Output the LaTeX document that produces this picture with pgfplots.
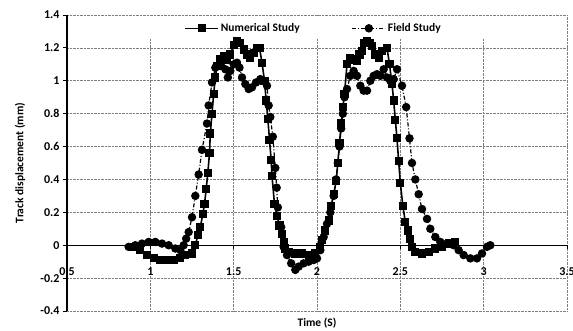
\documentclass[border=0pt]{standalone}
\usepackage{fontspec}
\setmainfont{Carlito}
\usepackage{pgfplots}
\pgfplotsset{compat=1.18}
\usetikzlibrary{calc}
\begin{document}
\begin{tikzpicture}
\begin{axis}[
  scale only axis, width=500pt, height=296pt,
  xmin=0.5, xmax=3.5, ymin=-0.4, ymax=1.4,
  xtick={0.5,1,1.5,2,2.5,3,3.5},
  xticklabels={0.5,1,1.5,2,2.5,3,3.5},
  ytick={-0.4,-0.2,0,0.2,0.4,0.6,0.8,1,1.2,1.4},
  yticklabels={-0.4,-0.2,0,0.2,0.4,0.6,0.8,1,1.2,1.4},
  axis y line=left, axis x line=middle,
  hide obscured x ticks=false, hide obscured y ticks=false,
  axis line style={-, line width=1.4pt, black},
  tick align=outside, major tick length=4pt,
  tick style={black, line width=0.8pt},
  grid=major, grid style={densely dotted, black!50, line width=0.6pt},
  ticklabel style={font=\fontsize{12}{14}\selectfont\bfseries},
  xticklabel style={yshift=-15pt},
  xlabel={Time (S)}, ylabel={Track displacement (mm)},
  label style={font=\fontsize{11.5}{13}\selectfont\bfseries},
  xlabel style={at={(axis description cs:0.5,0)}, anchor=center, yshift=-12pt},
  ylabel style={at={(axis description cs:-0.094,0.5)}, anchor=center},
  legend columns=2,
  legend style={draw=none, fill=none, at={(rel axis cs:0.493,0.955)}, anchor=center,
    font=\fontsize{11.5}{13}\selectfont\bfseries,
    /tikz/every even column/.append style={column sep=50pt}},
  legend image code/.code={\draw[mark repeat=2,mark phase=2,#1] plot coordinates {(0pt,0pt) (16.5pt,0pt) (33pt,0pt)};},
  clip=false,
]
\coordinate (sw) at (rel axis cs:0,0);
\coordinate (ne) at (rel axis cs:1,1);
\fill[white] (axis cs:0.6,1.39) rectangle (axis cs:3.3,1.253);

\addplot[black, line width=1.6pt, mark=square*, mark size=3.3pt, mark options={solid}] coordinates {
(0.90,-0.01) (0.94,-0.03) (0.98,-0.06) (1.02,-0.08) (1.06,-0.09) (1.10,-0.09) (1.14,-0.09)
(1.18,-0.08) (1.21,-0.06) (1.25,-0.05) (1.27,0.00) (1.285,0.06) (1.30,0.11) (1.315,0.19)
(1.325,0.25) (1.335,0.34) (1.345,0.44) (1.355,0.56) (1.36,0.68) (1.37,0.80) (1.38,0.92)
(1.39,1.02) (1.40,1.09) (1.42,1.13) (1.44,1.15) (1.46,1.13) (1.48,1.16) (1.50,1.22)
(1.52,1.24) (1.54,1.23) (1.56,1.19) (1.58,1.16) (1.60,1.14) (1.62,1.17) (1.64,1.20)
(1.655,1.20) (1.67,1.11) (1.685,1.00) (1.695,0.88) (1.705,0.77) (1.715,0.64) (1.725,0.52)
(1.73,0.42) (1.745,0.25) (1.76,0.18) (1.775,0.12) (1.79,0.07) (1.80,0.02) (1.81,-0.02)
(1.83,-0.04) (1.87,-0.05) (1.91,-0.05) (1.95,-0.06) (1.99,-0.05) (2.02,-0.01) (2.03,0.03)
(2.05,0.09) (2.07,0.15) (2.085,0.24) (2.10,0.31) (2.115,0.39) (2.125,0.50) (2.135,0.62)
(2.145,0.74) (2.155,0.84) (2.165,0.92) (2.18,1.10) (2.20,1.14) (2.22,1.13) (2.24,1.12)
(2.255,1.16) (2.27,1.18) (2.285,1.23) (2.30,1.24) (2.315,1.23) (2.33,1.21) (2.35,1.16)
(2.37,1.14) (2.39,1.18) (2.42,1.20) (2.435,1.10) (2.45,0.98) (2.46,0.88) (2.47,0.76)
(2.48,0.65) (2.49,0.51) (2.50,0.38) (2.515,0.24) (2.53,0.14) (2.545,0.09) (2.56,0.04)
(2.57,-0.01) (2.59,-0.04) (2.63,-0.05) (2.67,-0.04) (2.71,-0.02) (2.75,-0.01) (2.79,0.01)
(2.83,0.02)
};
\addlegendentry{Numerical Study}

\addplot[black, line width=1.2pt, dash pattern=on 4pt off 2pt on 1pt off 2pt, mark=*, mark size=3.6pt, mark options={solid}] coordinates {
(0.87,-0.01) (0.91,0.00) (0.95,0.01) (0.99,0.02) (1.03,0.02) (1.07,0.01) (1.11,0.00)
(1.15,-0.02) (1.18,-0.03) (1.20,0.00) (1.215,0.04) (1.23,0.08) (1.25,0.17) (1.27,0.30)
(1.29,0.43) (1.31,0.58) (1.34,0.74) (1.35,0.85) (1.37,0.99) (1.39,1.08) (1.42,1.09)
(1.435,1.14) (1.45,1.07) (1.465,1.02) (1.48,1.06) (1.50,1.10) (1.52,1.11) (1.535,1.08)
(1.55,1.02) (1.57,0.98) (1.59,0.95) (1.61,0.96) (1.635,0.99) (1.66,1.01) (1.68,1.00)
(1.70,0.97) (1.71,0.85) (1.72,0.78) (1.735,0.66) (1.75,0.47) (1.758,0.35) (1.765,0.23)
(1.785,0.11) (1.80,-0.01) (1.82,-0.06) (1.845,-0.11) (1.87,-0.15) (1.89,-0.13) (1.92,-0.11)
(1.95,-0.10) (1.98,-0.09) (2.00,-0.08) (2.02,-0.03) (2.04,0.05) (2.06,0.13) (2.08,0.20)
(2.10,0.30) (2.115,0.40) (2.125,0.50) (2.135,0.60) (2.145,0.71) (2.155,0.80) (2.165,0.90)
(2.18,0.95) (2.20,1.03) (2.22,1.06) (2.24,1.03) (2.26,0.97) (2.28,0.94) (2.30,0.94)
(2.32,1.00) (2.34,1.03) (2.36,1.04) (2.38,1.03) (2.40,1.07) (2.42,1.02) (2.44,1.00)
(2.46,1.01) (2.48,1.07) (2.51,0.97) (2.535,0.84) (2.555,0.65) (2.57,0.50) (2.59,0.40)
(2.61,0.31) (2.63,0.22) (2.66,0.16) (2.68,0.10) (2.71,0.05) (2.74,0.02) (2.78,0.01)
(2.82,0.00) (2.85,-0.03) (2.88,-0.06) (2.92,-0.08) (2.96,-0.08) (2.99,-0.05) (3.02,-0.01)
(3.04,0.00)
};
\addlegendentry{Field Study}
\end{axis}
\pgfresetboundingbox
\path[use as bounding box] ($(sw)+(-67pt,-19pt)$) rectangle ($(ne)+(6pt,15pt)$);
\end{tikzpicture}
\end{document}
